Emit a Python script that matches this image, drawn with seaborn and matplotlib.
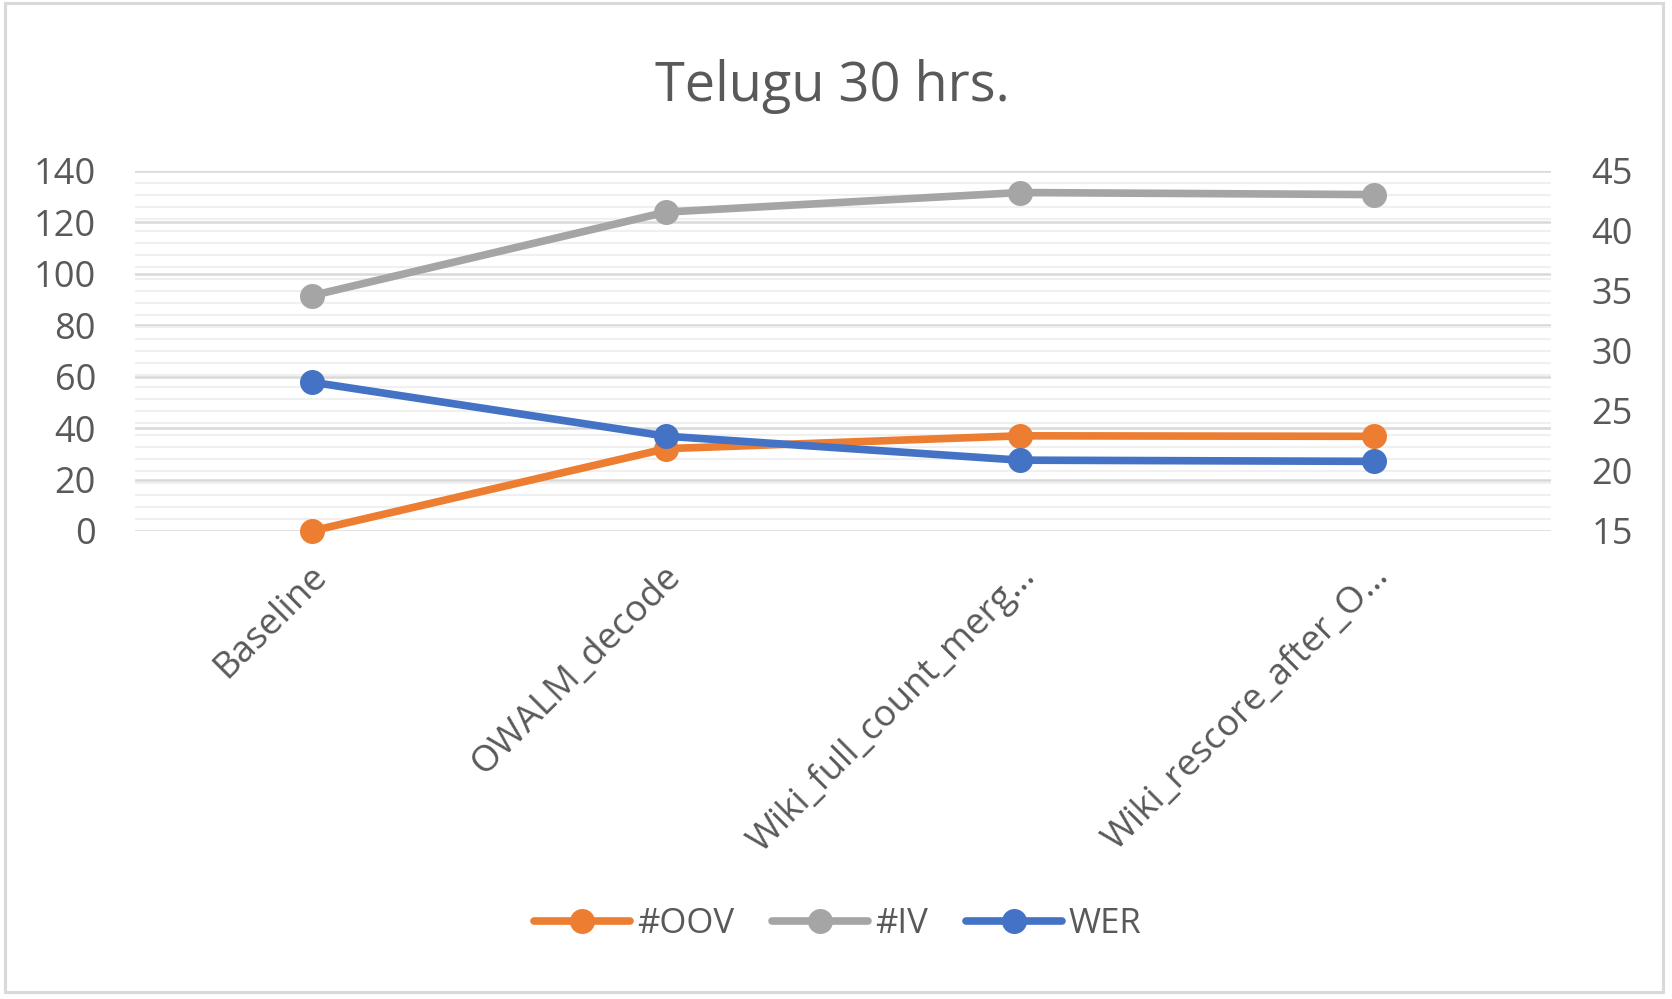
import matplotlib
matplotlib.use('Agg')
import matplotlib.pyplot as plt
import matplotlib.transforms as mtransforms
import seaborn as sns
import pandas as pd
from matplotlib.ticker import MultipleLocator
from matplotlib.lines import Line2D
from matplotlib.patches import Rectangle

# values
stages = ['Baseline', 'OWALM_decode', 'Wiki_full_count_merg…', 'Wiki_rescore_after_O…']
oov = [0, 32, 37, 36.8]
iv = [91.5, 124, 131.6, 130.8]
wer = [27.4, 22.9, 20.9, 20.8]

ORANGE = '#ED7D31'
GRAY = '#A5A5A5'
BLUE = '#4472C4'
TXT = '#595959'

sns.set_theme(style='white')
plt.rcParams['font.family'] = ['Open Sans', 'DejaVu Sans']

df = pd.DataFrame({'stage': stages, '#OOV': oov, '#IV': iv, 'WER': wer})

fig = plt.figure(figsize=(16.72, 9.99), dpi=100)
ax = fig.add_axes([0.0807, 0.4685, 0.8469, 0.3604])

style = dict(marker='o', markersize=18, linewidth=5.5, markeredgewidth=0,
             sort=False, clip_on=False, solid_capstyle='round')
sns.lineplot(data=df, x='stage', y='#OOV', ax=ax, color=ORANGE, **style)
sns.lineplot(data=df, x='stage', y='#IV', ax=ax, color=GRAY, **style)

ax2 = ax.twinx()
sns.lineplot(data=df, x='stage', y='WER', ax=ax2, color=BLUE, **style)

ax.set_xlim(-0.5, 3.5)
ax.set_ylim(0, 140)
ax2.set_ylim(15, 45)
ax.yaxis.set_major_locator(MultipleLocator(20))
ax2.yaxis.set_major_locator(MultipleLocator(5))
# light grid lines follow the right axis units
ax.yaxis.set_minor_locator(MultipleLocator(140 / 30))
ax.set_axisbelow(True)
ax.grid(axis='y', which='minor', color='#F0F0F0', linewidth=1.5)
ax.grid(axis='y', which='major', color='#D9D9D9', linewidth=1.8)
ax.grid(axis='x', visible=False)
ax2.grid(False)

for a in (ax, ax2):
    for s in a.spines.values():
        s.set_visible(False)
    a.set_xlabel('')
    a.set_ylabel('')
    a.tick_params(length=0, which='both', labelsize=26, colors=TXT)

ax.tick_params(axis='y', pad=28)
ax2.tick_params(axis='y', pad=29)
ax.tick_params(axis='x', pad=29, labelsize=26.5)
shift = mtransforms.ScaledTranslation(0.10, 0, fig.dpi_scale_trans)
for lab in ax.get_xticklabels():
    lab.set_rotation(45)
    lab.set_ha('right')
    lab.set_va('center')
    lab.set_rotation_mode('anchor')
    lab.set_transform(lab.get_transform() + shift)

fig.text(0.4976, 0.899, 'Telugu 30 hrs.', ha='center', va='baseline',
         fontsize=39, color=TXT)

handles = [Line2D([], [], color=c, marker='o', markersize=18, linewidth=5.5,
                  markeredgewidth=0, solid_capstyle='round')
           for c in (ORANGE, GRAY, BLUE)]
leg = fig.legend(handles, ['#OOV', '#IV', 'WER'], loc='center',
                 bbox_to_anchor=(0.501, 0.075), ncol=3, frameon=False,
                 fontsize=25, handlelength=2.76, handletextpad=0.2,
                 columnspacing=1.1)
for t in leg.get_texts():
    t.set_color(TXT)

fig.patches.append(Rectangle((0.003, 0.007), 0.9916, 0.99, transform=fig.transFigure,
                             fill=False, edgecolor='#D9D9D9', linewidth=2.2))

fig.savefig('out.png', dpi=100, facecolor='white')
